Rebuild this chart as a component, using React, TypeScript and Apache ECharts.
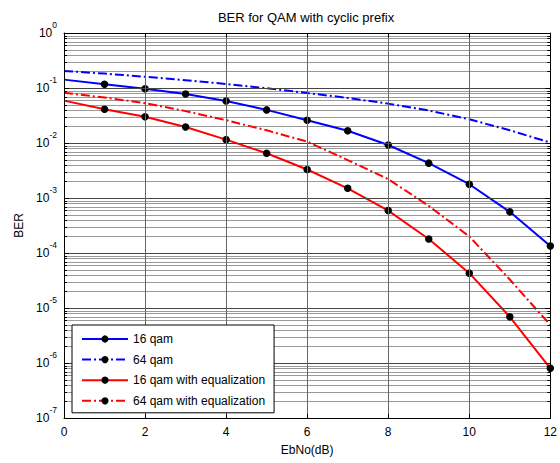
import React, { useEffect, useRef } from 'react';
import * as echarts from 'echarts';

const ebno = [0, 1, 2, 3, 4, 5, 6, 7, 8, 9, 10, 11, 12];
const ber16qam = [0.142, 0.117, 0.097, 0.078, 0.058, 0.040, 0.026, 0.0167, 0.0092, 0.0043, 0.00178, 0.00056, 0.000134];
const ber64qam = [0.204, 0.183, 0.160, 0.139, 0.118, 0.099, 0.081, 0.066, 0.052, 0.039, 0.027, 0.017, 0.0102];
const ber16qamEq = [0.059, 0.041, 0.030, 0.0195, 0.0115, 0.0065, 0.0033, 0.0015, 0.00059, 0.00018, 4.3e-5, 6.9e-6, 8e-7];
const ber64qamEq = [0.082, 0.067, 0.053, 0.038, 0.026, 0.017, 0.0106, 0.0049, 0.0022, 0.00072, 0.0002, 3.3e-5, 4.9e-6];
const seriesNames = ['16 qam', '64 qam', '16 qam with equalization', '64 qam with equalization'];
const titleText = 'BER for QAM with cyclic prefix';
const xName = 'EbNo(dB)';
const yName = 'BER';

const FONT = '"Liberation Sans", Arial, Helvetica, sans-serif';
const DASHDOT = [9, 3, 2, 3];

export default function App() {
  const ref = useRef<HTMLDivElement>(null);
  useEffect(() => {
    const chart = echarts.init(ref.current!, null, { renderer: 'svg' });
    const minorVals: number[][] = [];
    for (let d = -7; d < 0; d++) {
      for (let m = 2; m <= 9; m++) minorVals.push([0, m * Math.pow(10, d)]);
    }
    const pair = (ys: number[]) => ebno.map((x, i) => [x, ys[i]]);
    const lineSeries = (name: string, ys: number[], color: string, dashed: boolean, markers: boolean) => ({
      type: 'line',
      name,
      data: pair(ys),
      xAxisIndex: 0,
      yAxisIndex: 0,
      color,
      symbol: markers
        ? (_v: any, params: any) => (params && params.dataIndex === 0 ? 'none' : 'circle')
        : 'none',
      symbolSize: 7.5,
      showSymbol: markers,
      itemStyle: { color: '#000' },
      lineStyle: { color, width: 2, type: dashed ? DASHDOT : 'solid' },
      emphasis: { disabled: true },
      z: 5,
    });

    chart.setOption({
      animation: false,
      backgroundColor: '#fff',
      textStyle: { fontFamily: FONT },
      title: {
        text: titleText,
        left: 306,
        top: 11,
        textAlign: 'center',
        padding: 0,
        textStyle: { fontFamily: FONT, fontSize: 13, fontWeight: 'normal', color: '#000' },
      },
      grid: { left: 64, right: 7, top: 33, bottom: 45, containLabel: false },
      legend: {
        data: seriesNames.map((n, i) => (i === 0 || i === 2 ? { name: n, icon: undefined } : { name: n })),
        orient: 'vertical',
        left: 72,
        top: 325,
        padding: [8, 9, 6, 9],
        itemWidth: 46,
        itemHeight: 9,
        itemGap: 8.6,
        backgroundColor: '#fff',
        borderColor: '#000',
        borderWidth: 1,
        borderRadius: 0,
        textStyle: { fontFamily: FONT, fontSize: 12, color: '#000' },
        selectedMode: false,
        z: 20,
      },
      xAxis: [
        {
          type: 'value',
          min: 0,
          max: 12,
          interval: 2,
          name: xName,
          nameLocation: 'middle',
          nameGap: 26,
          nameTextStyle: { fontFamily: FONT, fontSize: 12, color: '#000' },
          axisLine: { show: true, onZero: false, lineStyle: { color: '#000', width: 1 } },
          axisTick: { show: true, inside: true, length: 4, lineStyle: { color: '#000' } },
          axisLabel: { fontFamily: FONT, fontSize: 12, color: '#000', margin: 8 },
          splitLine: { show: true, lineStyle: { color: '#666', width: 1 } },
          z: 10,
        },
        {
          type: 'value',
          position: 'top',
          min: 0,
          max: 12,
          interval: 2,
          axisLine: { show: true, onZero: false, lineStyle: { color: '#000', width: 1 } },
          axisTick: { show: true, inside: true, length: 4, lineStyle: { color: '#000' } },
          axisLabel: { show: false },
          splitLine: { show: false },
          z: 10,
        },
      ],
      yAxis: [
        {
          type: 'log',
          logBase: 10,
          min: 1e-7,
          max: 1,
          interval: 1,
          name: yName,
          nameLocation: 'middle',
          nameGap: 28,
          nameRotate: 90,
          nameTextStyle: { fontFamily: FONT, fontSize: 12, color: '#000' },
          axisLine: { show: true, onZero: false, lineStyle: { color: '#000', width: 1 } },
          axisTick: { show: true, inside: true, length: 5, lineStyle: { color: '#000' } },
          axisLabel: {
            margin: 7,
            formatter: (v: number) => `{b|10}{e|${Math.round(Math.log10(v))}}`,
            rich: {
              b: { fontFamily: FONT, fontSize: 12, color: '#000', lineHeight: 26, verticalAlign: 'middle' },
              e: { fontFamily: FONT, fontSize: 8.5, color: '#000', verticalAlign: 'top' },
            },
          },
          splitLine: { show: true, lineStyle: { color: '#444', width: 1 } },
          z: 10,
        },
        {
          type: 'log',
          logBase: 10,
          position: 'right',
          min: 1e-7,
          max: 1,
          interval: 1,
          axisLine: { show: true, onZero: false, lineStyle: { color: '#000', width: 1 } },
          axisTick: { show: true, inside: true, length: 5, lineStyle: { color: '#000' } },
          axisLabel: { show: false },
          splitLine: { show: false },
          z: 10,
        },
      ],
      series: [
        {
          type: 'custom',
          name: 'minor-grid',
          silent: true,
          xAxisIndex: 0,
          yAxisIndex: 0,
          data: minorVals,
          z: 1,
          renderItem: (params: any, api: any) => {
            const p = api.coord([0, api.value(1)]);
            const cs = params.coordSys;
            const y = Math.round(p[1]) + 0.5;
            const x0 = cs.x;
            const x1 = cs.x + cs.width;
            return {
              type: 'group',
              children: [
                { type: 'line', shape: { x1: x0, y1: y, x2: x1, y2: y }, style: { stroke: '#9a9a9a', lineWidth: 1 } },
                { type: 'line', shape: { x1: x0, y1: y, x2: x0 + 3, y2: y }, style: { stroke: '#000', lineWidth: 1 }, z2: 5 },
                { type: 'line', shape: { x1: x1 - 3, y1: y, x2: x1, y2: y }, style: { stroke: '#000', lineWidth: 1 }, z2: 5 },
              ],
            };
          },
        },
        lineSeries(seriesNames[0], ber16qam, '#0000ff', false, true),
        lineSeries(seriesNames[1], ber64qam, '#0000ff', true, false),
        lineSeries(seriesNames[2], ber16qamEq, '#ff0000', false, true),
        lineSeries(seriesNames[3], ber64qamEq, '#ff0000', true, false),
      ],
    });
    return () => chart.dispose();
  }, []);
  return (
    <div
      ref={ref}
      style={{ position: 'fixed', left: 0, top: 0, width: 560, height: 463, background: '#fff' }}
    />
  );
}
